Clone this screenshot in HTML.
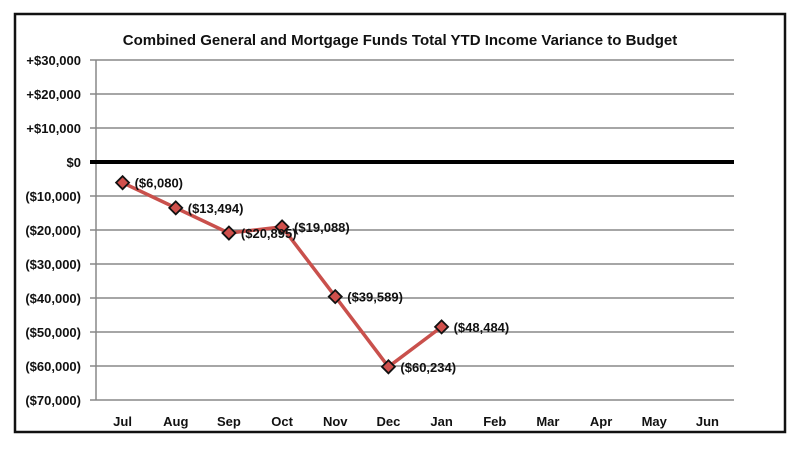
<!DOCTYPE html>
<html><head><meta charset="utf-8"><style>
body{margin:0;background:#fff;width:800px;height:456px;overflow:hidden}
svg{font-family:"Liberation Sans",sans-serif}
</style></head><body>
<svg id="chart" width="800" height="456">
<rect x="15" y="14" width="770" height="418" fill="#fff" stroke="#111" stroke-width="2.5"/>
<text x="400" y="45" text-anchor="middle" font-size="15" font-weight="bold" fill="#111">Combined General and Mortgage Funds Total YTD Income Variance to Budget</text>
<g id="grid"></g><g id="series"></g><g id="labels"></g>
</svg>
<script>
const months=["Jul","Aug","Sep","Oct","Nov","Dec","Jan","Feb","Mar","Apr","May","Jun"];
const values=[-6080,-13494,-20895,-19088,-39589,-60234,-48484];
const pointLabels=["($6,080)","($13,494)","($20,895)","($19,088)","($39,589)","($60,234)","($48,484)"];
const ticks=[30000,20000,10000,0,-10000,-20000,-30000,-40000,-50000,-60000,-70000];
const tickLabels=["+$30,000","+$20,000","+$10,000","$0","($10,000)","($20,000)","($30,000)","($40,000)","($50,000)","($60,000)","($70,000)"];
const NS="http://www.w3.org/2000/svg";
const L=96,R=734,T=60,B=400,ymax=30000,ymin=-70000;
const y=v=>T+(ymax-v)/(ymax-ymin)*(B-T);
const x=i=>L+(i+0.5)*(R-L)/months.length;
function mk(tag,a,parent){const e=document.createElementNS(NS,tag);for(const k in a)e.setAttribute(k,a[k]);document.getElementById(parent).appendChild(e);return e;}
const g="grid";
const vax=mk("line",{x1:L,x2:L,y1:T,y2:B,stroke:"#888","stroke-width":1.5},g);


ticks.forEach((t,i)=>{
 const ln=mk("line",{x1:L-6,x2:R,y1:y(t),y2:y(t),stroke:t===0?"#000":"#888","stroke-width":t===0?4:1.5},g);
 
 
 const tx=mk("text",{x:81,y:y(t)+5,"text-anchor":"end","font-size":13,"font-weight":"bold",fill:"#111"},g);
 tx.textContent=tickLabels[i];
 
 
});
months.forEach((m,i)=>{
 const tx=mk("text",{x:x(i),y:426,"text-anchor":"middle","font-size":13,"font-weight":"bold",fill:"#111"},g);
 tx.textContent=m;
 
 
});
const pts=values.map((v,i)=>x(i)+","+y(v)).join(" ");
const pl=mk("polyline",{points:pts,fill:"none",stroke:"#c9504c","stroke-width":3.5},"series");


values.forEach((v,i)=>{
 const cx=x(i),cy=y(v),s=6.5;
 const d=mk("polygon",{points:`${cx},${cy-s} ${cx+s},${cy} ${cx},${cy+s} ${cx-s},${cy}`,fill:"#d0504c",stroke:"#111","stroke-width":1.8},"series");
 
 
 const tx=mk("text",{x:cx+12,y:cy+5,"font-size":13,"font-weight":"bold",fill:"#111"},"labels");
 tx.textContent=pointLabels[i];
 
 
});
</script>
</body></html>
